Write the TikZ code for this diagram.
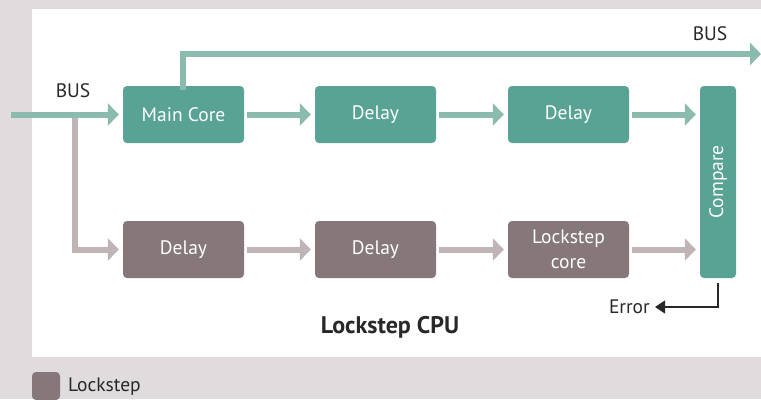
\documentclass[tikz,border=0pt]{standalone}
\usepackage{fontspec}
\setmainfont{PT Sans}
\usetikzlibrary{arrows.meta}
\definecolor{bgc}{RGB}{224,220,221}
\definecolor{tealbox}{RGB}{88,163,148}
\definecolor{tealarr}{RGB}{139,186,174}
\definecolor{graybox}{RGB}{134,119,122}
\definecolor{grayarr}{RGB}{192,181,182}
\definecolor{txt}{RGB}{40,40,40}
\tikzset{
  box/.style={rounded corners=4bp, minimum width=121bp, minimum height=57bp, inner sep=0pt, text=white, font=\fontsize{19.5bp}{25bp}\selectfont, align=center},
  tbox/.style={box, fill=tealbox},
  gbox/.style={box, fill=graybox},
  tarr/.style={draw=tealarr, line width=6bp, -{Triangle[width=22bp,length=11bp]}},
  garr/.style={draw=grayarr, line width=6bp, -{Triangle[width=22bp,length=11bp]}},
  lbl/.style={text=txt, font=\fontsize{19.5bp}{22bp}\selectfont, inner sep=0pt},
}
\begin{document}
\begin{tikzpicture}[x=1bp,y=-1bp]
\useasboundingbox (0,0) rectangle (761,399);
\fill[bgc] (0,0) rectangle (761,399);
\fill[white] (32,9) rectangle (761,357);
% boxes
\node[tbox] (main) at (183.5,114.5) {Main Core};
\node[tbox] (d2) at (375.5,114.5) {Delay};
\node[tbox] (d3) at (568.5,114.5) {Delay};
\node[tbox, minimum width=36bp, minimum height=192bp] (cmp) at (718,182) {};
\node[text=white, rotate=90, font=\fontsize{19.5bp}{22bp}\selectfont, inner sep=0pt] (cmplbl) at (cmp.center) {Compare};
\node[gbox] (b1) at (183.5,249.5) {Delay};
\node[gbox] (b2) at (375.5,249.5) {Delay};
\node[gbox] (lc) at (568.5,249.5) {Lockstep\\core};
% coordinates
\coordinate (in) at (11,114.5);
\coordinate (split) at (75,117);
\coordinate (busend) at (761,54);
\coordinate (errend) at (655,307);
% lockstep branch
\draw[garr] (split) |- ([xshift=-4bp]b1.west);
\draw[garr] ([xshift=3bp]b1.east) -- ([xshift=-4bp]b2.west);
\draw[garr] ([xshift=3bp]b2.east) -- ([xshift=-4bp]lc.west);
\draw[garr] ([xshift=3bp]lc.east) -- ([xshift=-4bp]lc.east -| cmp.west);
% main path
\draw[tarr] (in) -- ([xshift=-4bp]main.west);
\draw[tarr] ([xshift=3bp]main.east) -- ([xshift=-4bp]d2.west);
\draw[tarr] ([xshift=3bp]d2.east) -- ([xshift=-4bp]d3.west);
\draw[tarr] ([xshift=3bp]d3.east) -- ([xshift=-4bp]d3.east -| cmp.west);
\draw[tarr] ([xshift=-0.5bp,yshift=-4bp]main.north) |- (busend);
% error
\draw[draw=txt, line width=1.3bp, -{Triangle[width=13bp,length=10bp]}] ([yshift=-5bp]cmp.south) |- (errend);
% labels
\node[lbl] (buslbl) at (73,91) {BUS};
\node[lbl] (busr) at (710,34) {BUS};
\node[lbl, anchor=east] (err) at (650,307) {Error};
\node[lbl, font=\fontsize{24bp}{26bp}\selectfont\bfseries] (title) at (390,327) {Lockstep CPU};
% legend
\fill[graybox, rounded corners=4bp] (32,372) rectangle (60,400);
\node[lbl, anchor=west] (leg) at (68,387) {Lockstep};
\end{tikzpicture}
\end{document}
